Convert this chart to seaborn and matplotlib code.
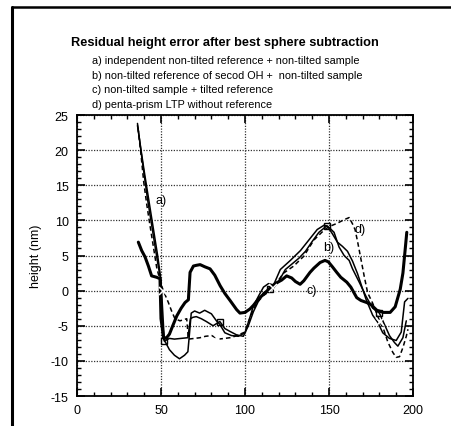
import numpy as np
import pandas as pd
import matplotlib
matplotlib.use("Agg")
import matplotlib.pyplot as plt
from matplotlib.lines import Line2D
from matplotlib.ticker import MultipleLocator
import seaborn as sns

# ---------------- data ----------------
a_x = [36, 38, 40, 42, 44, 46, 48, 50, 51, 53, 55, 58, 61, 64, 66, 67, 68, 70, 73, 76,
       80, 83, 85, 88, 92, 96, 100, 102, 105, 108, 111, 114, 117, 121, 127, 133, 137,
       143, 147, 149, 152, 155, 158, 161, 164, 167, 172, 176, 179, 182, 186, 190, 193,
       195, 197]
a_y = [23.8, 20, 16.5, 13, 10, 7, 4, 1.2, -6.7, -7.5, -8.4, -9.2, -9.7, -9.2, -8.7, -6,
       -3.2, -2.9, -3.2, -2.8, -3.3, -4.3, -4.8, -6, -6.4, -6.5, -6.0, -4.5, -2.2, -0.8,
       0.5, 1.0, 0.8, 3.0, 4.3, 5.7, 6.9, 8.7, 9.3, 9.2, 8.1, 6.9, 6.3, 5.6, 4.2, 2.4,
       -1.2, -3.5, -4.5, -6, -6.8, -7.1, -5.9, -1.6, -1.1]

b_x = [36, 38, 40, 42, 44, 46, 48, 50, 52, 55, 58, 62, 66, 67.5, 69, 71, 74, 77, 81, 85,
       88, 91, 95, 99, 102, 105, 108, 111, 115, 117, 120, 124, 128, 132, 136, 140, 144,
       148.6, 150, 153, 156, 159, 162, 164, 168, 172, 176, 180, 183, 186, 189, 191, 194,
       196]
b_y = [23.5, 20.2, 17, 14, 11, 8, 5, 1.5, -7.2, -6.8, -6.9, -6.8, -6.7, -4.0, -3.8, -3.7,
       -4.0, -4.4, -5.0, -4.4, -5.4, -5.8, -6.3, -6.5, -5.0, -3.0, -1.5, -0.3, 0.2, 0.4,
       1.3, 3.0, 3.8, 4.6, 5.6, 7.0, 8.3, 9.2, 9.0, 8.3, 6.2, 5.0, 4.3, 3.1, 1.2, -0.8,
       -2.5, -3.2, -4.8, -6.4, -7.4, -7.9, -6.7, -4.3]
b_marks = [52, 85, 115, 148.6, 180]

c_x = [36.5, 38.5, 40.5, 42.5, 44.4, 47.4, 49.4, 50, 51.5, 53, 55, 57, 59.4, 62, 64.3,
       66.3, 67.3, 69.3, 71, 73.3, 76, 79.2, 82, 85.2, 88, 91.1, 95, 97, 100, 103, 105,
       108, 112, 115, 118, 121.8, 124.8, 127.8, 130, 132.8, 135, 138.7, 141, 144.7,
       147.6, 149.6, 152, 154.6, 157, 160.6, 163, 166.5, 169, 172.5, 175, 178.5, 182.4,
       186.4, 189.4, 192.4, 194, 195.4, 196.3]
c_y = [6.9, 5.7, 4.8, 3.5, 2.1, 1.9, 1.7, -4, -6.6, -6.8, -6.2, -5.0, -3.6, -2.5, -1.7,
       -1.3, 2.6, 3.5, 3.6, 3.7, 3.4, 3.1, 2.2, 0.7, -0.4, -1.4, -2.7, -3.2, -3.1, -2.6,
       -2.1, -1.2, -0.3, 0.4, 1.0, 1.5, 2.1, 1.8, 1.3, 0.9, 1.4, 2.6, 3.2, 4.0, 4.3, 4.1,
       3.4, 2.6, 1.9, 1.2, 0.5, -1.0, -1.4, -1.7, -2.0, -2.8, -3.1, -3.1, -2.3, 0.2, 2.5,
       6.0, 8.3]

d_x = [36.3, 38, 39.7, 41.5, 43.5, 45.5, 47.5, 50.2, 51.4, 54.4, 56.3, 58.3, 61.3,
       65.3, 66.3, 70, 73.3, 76.5, 80.2, 84.1, 88, 91.1, 94, 97, 100, 102, 105, 108,
       111, 114, 116.8, 119, 123, 129, 135, 141, 147, 150, 155, 159, 162, 164, 165.5,
       167, 169, 171, 173, 176, 180.4, 182.5, 185, 188, 190, 192, 194, 196, 197]
d_y = [23.2, 19.6, 15.5, 12.3, 9.2, 6.2, 3.2, 0.8, 0, -1.7, -2.9, -4.0, -4.3, -4.0, -6.9,
       -6.8, -6.7, -6.5, -6.4, -6.9, -6.8, -6.7, -6.5, -6.2, -5.9, -4.5, -2.6, -1.5,
       -0.7, -0.2, 0.4, 1.2, 2.5, 3.5, 4.9, 7.2, 8.6, 9.1, 9.6, 10.1, 10.4, 9.5, 8.7,
       7.0, 4.5, 2.0, -0.3, -1.8, -4.5, -5.5, -7.3, -8.8, -9.5, -9.4, -8.1, -6.5, -5.5]
d_marks = [51.4, 84.1, 116.8, 180.4]

title = "Residual height error after best sphere subtraction"
subtitles = ["a) independent non-tilted reference + non-tilted sample",
             "b) non-tilted reference of secod OH +  non-tilted sample",
             "c) non-tilted sample + tilted reference",
             "d) penta-prism LTP without reference"]
curve_labels = ["a)", "b)", "c)", "d)"]
label_pos_x = [49.8, 149.6, 139.7, 168.5]
label_pos_y = [12.9, 6.2, 0.1, 8.8]
x_ticks = [0, 50, 100, 150, 200]
y_ticks = [-15, -10, -5, 0, 5, 10, 15, 20, 25]
y_label = "height (nm)"

# ---------------- drawing ----------------
sns.set_theme(style="white")
plt.rcParams["font.family"] = ["Liberation Sans", "DejaVu Sans"]
plt.rcParams["axes.unicode_minus"] = False
plt.rcParams["text.color"] = "black"
plt.rcParams["axes.labelcolor"] = "black"
plt.rcParams["xtick.color"] = "black"
plt.rcParams["ytick.color"] = "black"

fig = plt.figure(figsize=(4.51, 4.27), dpi=100)
ax = fig.add_axes([77 / 451, 1 - 397 / 427, 336 / 451, 281 / 427])


def idx_of(xs, marks):
    return [int(np.argmin(np.abs(np.asarray(xs) - m))) for m in marks]


df_a = pd.DataFrame({"x": a_x, "y": a_y})
df_b = pd.DataFrame({"x": b_x, "y": b_y})
df_c = pd.DataFrame({"x": c_x, "y": c_y})
df_d = pd.DataFrame({"x": d_x, "y": d_y})

sns.lineplot(data=df_a, x="x", y="y", ax=ax, color="black", lw=1.1,
             sort=False, estimator=None)
sns.lineplot(data=df_b, x="x", y="y", ax=ax, color="black", lw=1.1,
             sort=False, estimator=None, marker="s", markersize=5,
             markerfacecolor="none", markeredgecolor="black", markeredgewidth=1.0,
             markevery=idx_of(b_x, b_marks))
sns.lineplot(data=df_c, x="x", y="y", ax=ax, color="black", lw=2.2,
             sort=False, estimator=None)
sns.lineplot(data=df_d, x="x", y="y", ax=ax, color="black", lw=1.1,
             sort=False, estimator=None, linestyle=(0, (3, 2)), marker="x",
             markersize=6, markeredgewidth=1.1, markevery=idx_of(d_x, d_marks))

for lab, lx, ly in zip(curve_labels, label_pos_x, label_pos_y):
    ax.text(lx, ly, lab, fontsize=9, ha="center", va="center", color="black")

ax.set_xlim(0, 200)
ax.set_ylim(-15, 25)
ax.set_xticks(x_ticks)
ax.set_yticks(y_ticks)
ax.xaxis.set_minor_locator(MultipleLocator(10))
ax.yaxis.set_minor_locator(MultipleLocator(1))
ax.tick_params(which="both", direction="in", top=True, right=True,
               bottom=True, left=True, colors="black", labelsize=9, pad=6)
ax.tick_params(which="major", length=6, width=1.2)
ax.tick_params(which="minor", length=3, width=1.0)
ax.grid(True, which="major", linestyle=(0, (1, 1.2)), color="#333333", lw=0.9)
for s in ax.spines.values():
    s.set_color("black")
    s.set_linewidth(1.3)
ax.set_xlabel("")
ax.set_ylabel(y_label, fontsize=9, labelpad=6, color="black")

fig.text(225 / 451, 1 - 43 / 427, title, fontsize=9.2, fontweight="bold",
         ha="center", va="center", color="black")
for i, s in enumerate(subtitles):
    fig.text(92 / 451, 1 - (61 + 14.6 * i) / 427, s, fontsize=7.8,
             ha="left", va="center", color="black")

# scanned page frame
fig.add_artist(Line2D([12 / 451, 1.0], [1 - 8 / 427, 1 - 8 / 427],
                      color="black", lw=1.8, transform=fig.transFigure))
fig.add_artist(Line2D([12 / 451, 12 / 451], [1 - 8 / 427, 0.0],
                      color="black", lw=2.2, transform=fig.transFigure))

fig.savefig("out.png", dpi=100)
